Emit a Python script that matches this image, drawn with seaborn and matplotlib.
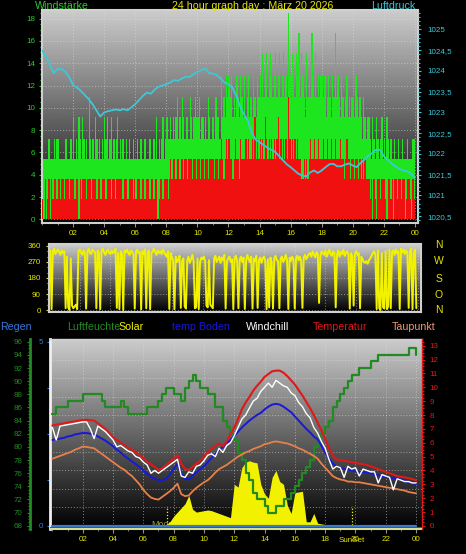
#!/usr/bin/env python3
"""
Graphique météo sur 24 h : vent, pression, direction, températures.
"""
import numpy as np
import matplotlib
matplotlib.use('Agg')
import matplotlib.pyplot as plt
from matplotlib.ticker import MultipleLocator, FixedLocator, FuncFormatter
import seaborn as sns

W, H = 466, 554

# Vent (km/h), un point toutes les 5 minutes
WIND_GUST = [
    7.2, 5.4, 5.4, 5.4, 5.4, 7.2, 5.4, 5.4, 5.4, 7.2, 5.4, 7.2,
    7.2, 5.4, 5.4, 5.4, 5.4, 5.4, 7.2, 5.4, 5.4, 5.4, 7.2, 5.4,
    9.2, 5.4, 7.2, 5.4, 9.2, 7.2, 5.4, 9.2, 7.2, 5.4, 7.2, 5.4,
    11, 7.2, 5.4, 7.2, 5.4, 9.2, 7.2, 5.4, 7.2, 5.4, 7.2, 5.4,
    9.2, 7.2, 9.2, 5.4, 7.2, 9.2, 5.4, 7.2, 5.4, 7.2, 9.2, 5.4,
    7.2, 5.4, 7.2, 5.4, 5.4, 7.2, 5.4, 7.2, 5.4, 5.4, 7.2, 5.4,
    5.4, 7.2, 5.4, 5.4, 7.2, 5.4, 5.4, 7.2, 5.4, 5.4, 5.4, 7.2,
    5.4, 5.4, 7.2, 5.4, 9.2, 5.4, 7.2, 5.4, 7.2, 9.2, 5.4, 7.2,
    9.2, 7.2, 7.2, 9.2, 7.2, 9.2, 7.2, 9.2, 11, 7.2, 9.2, 7.2,
    11, 9.2, 7.2, 9.2, 9.2, 7.2, 11, 9.2, 7.2, 9.2, 11, 9.2,
    9.2, 11, 7.2, 9.2, 9.2, 7.2, 9.2, 7.2, 11, 9.2, 7.2, 9.2,
    9.2, 7.2, 11, 9.2, 9.2, 7.2, 12.9, 9.2, 11, 9.2, 12.9, 11,
    12.9, 11, 12.9, 9.2, 11, 9.2, 12.9, 11, 9.2, 12.9, 11, 9.2,
    12.9, 9.2, 11, 12.9, 9.2, 11, 9.2, 12.9, 11, 9.2, 12.9, 11,
    12.9, 11, 14.9, 11, 12.9, 14.9, 11, 12.9, 14.9, 12.9, 11, 12.9,
    14.9, 11, 12.9, 14.9, 11, 12.9, 14.9, 11, 12.9, 11, 18.5, 12.9,
    11, 14.9, 12.9, 11, 14.9, 12.9, 16.7, 11, 14.9, 12.9, 11, 9.2,
    14.9, 11, 12.9, 11, 16.7, 12.9, 11, 14.9, 11, 12.9, 11, 12.9,
    12.9, 11, 12.9, 9.2, 11, 12.9, 11, 9.2, 12.9, 11, 16.7, 11,
    12.9, 11, 9.2, 12.9, 11, 9.2, 11, 12.9, 9.2, 11, 9.2, 11,
    11, 9.2, 12.9, 11, 9.2, 11, 9.2, 7.2, 11, 9.2, 7.2, 9.2,
    9.2, 7.2, 5.4, 9.2, 7.2, 5.4, 9.2, 7.2, 5.4, 7.2, 9.2, 5.4,
    7.2, 5.4, 9.2, 7.2, 5.4, 7.2, 5.4, 5.4, 7.2, 5.4, 5.4, 7.2,
    5.4, 5.4, 7.2, 5.4, 5.4, 5.4, 7.2, 5.4, 5.4, 5.4, 7.2, 7.2,
]
WIND_SPEED = [
    1.8, 0, 3.6, 0, 1.8, 3.6, 0, 3.6, 1.8, 3.6, 3.6, 1.8,
    3.6, 3.6, 1.8, 3.6, 3.6, 1.8, 3.6, 3.6, 3.6, 1.8, 3.6, 3.6,
    3.6, 1.8, 3.6, 3.6, 0, 3.6, 1.8, 3.6, 3.6, 3.6, 1.8, 3.6,
    3.6, 3.6, 1.8, 3.6, 3.6, 3.6, 1.8, 3.6, 3.6, 1.8, 3.6, 3.6,
    3.6, 1.8, 3.6, 3.6, 3.6, 1.8, 3.6, 3.6, 1.8, 3.6, 3.6, 3.6,
    3.6, 3.6, 1.8, 3.6, 3.6, 3.6, 1.8, 3.6, 3.6, 3.6, 1.8, 3.6,
    1.8, 3.6, 3.6, 3.6, 1.8, 3.6, 3.6, 1.8, 3.6, 3.6, 3.6, 1.8,
    3.6, 3.6, 1.8, 3.6, 3.6, 0, 1.8, 3.6, 3.6, 1.8, 3.6, 3.6,
    3.6, 1.8, 3.6, 5.4, 3.6, 5.4, 5.4, 3.6, 5.4, 5.4, 3.6, 5.4,
    5.4, 3.6, 5.4, 5.4, 3.6, 5.4, 5.4, 5.4, 3.6, 5.4, 5.4, 3.6,
    5.4, 5.4, 3.6, 5.4, 5.4, 3.6, 5.4, 5.4, 3.6, 5.4, 5.4, 5.4,
    5.4, 3.6, 5.4, 5.4, 3.6, 5.4, 7.2, 5.4, 3.6, 5.4, 7.2, 5.4,
    7.2, 5.4, 5.4, 3.6, 5.4, 7.2, 5.4, 5.4, 3.6, 7.2, 5.4, 5.4,
    5.4, 7.2, 5.4, 7.2, 5.4, 5.4, 7.2, 5.4, 9.2, 5.4, 7.2, 5.4,
    7.2, 5.4, 7.2, 5.4, 9.2, 7.2, 5.4, 7.2, 5.4, 7.2, 5.4, 7.2,
    5.4, 7.2, 9.2, 5.4, 7.2, 5.4, 7.2, 5.4, 7.2, 5.4, 11, 7.2,
    5.4, 7.2, 5.4, 7.2, 5.4, 7.2, 5.4, 5.4, 3.6, 3.6, 5.4, 3.6,
    5.4, 3.6, 5.4, 7.2, 5.4, 5.4, 7.2, 5.4, 5.4, 7.2, 5.4, 5.4,
    5.4, 7.2, 5.4, 5.4, 7.2, 5.4, 5.4, 7.2, 5.4, 5.4, 7.2, 5.4,
    5.4, 5.4, 7.2, 5.4, 5.4, 3.6, 5.4, 7.2, 5.4, 5.4, 3.6, 5.4,
    5.4, 3.6, 5.4, 5.4, 3.6, 5.4, 3.6, 5.4, 3.6, 5.4, 3.6, 3.6,
    3.6, 1.8, 3.6, 0, 3.6, 1.8, 0, 3.6, 3.6, 1.8, 3.6, 3.6,
    3.6, 1.8, 0, 3.6, 3.6, 1.8, 3.6, 0, 3.6, 3.6, 1.8, 3.6,
    3.6, 1.8, 3.6, 3.6, 0, 1.8, 3.6, 3.6, 1.8, 0, 3.6, 1.8,
]

# Pression (hPa), toutes les 15 minutes
PRESSURE = [
    1024.5, 1024.35, 1024.15, 1023.95,
    1024.05, 1024.05, 1023.98, 1023.85,
    1023.66, 1023.6, 1023.52, 1023.42,
    1023.32, 1023.2, 1023.05, 1022.9,
    1023.0, 1023.03, 1023.05, 1023.07,
    1023.05, 1023.08, 1023.05, 1023.12,
    1023.2, 1023.3, 1023.4, 1023.48,
    1023.45, 1023.55, 1023.62, 1023.65,
    1023.68, 1023.72, 1023.78, 1023.76,
    1023.82, 1023.86, 1023.85, 1023.92,
    1023.98, 1024.02, 1024.06, 1023.95,
    1023.94, 1023.9, 1023.82, 1023.72,
    1023.68, 1023.6, 1023.4, 1023.15,
    1022.95, 1022.8, 1022.5, 1022.35,
    1022.28, 1022.22, 1022.15, 1022.1,
    1022.05, 1021.95, 1021.85, 1021.75,
    1021.68, 1021.6, 1021.52, 1021.48,
    1021.45, 1021.55, 1021.6, 1021.54,
    1021.6, 1021.68, 1021.75, 1021.76,
    1021.7, 1021.7, 1021.74, 1021.77,
    1021.72, 1021.68, 1021.78, 1021.86,
    1021.95, 1022.02, 1022.1, 1022.1,
    1021.95, 1021.85, 1021.77, 1021.7,
    1021.64, 1021.6, 1021.58, 1021.52,
    1021.43,
]

# Direction du vent (degrés), toutes les 5 minutes
WIND_DIR = [
    320, 335, 5, 330, 345, 315, 330, 340, 325, 310, 335, 320,
    330, 10, 300, 15, 0, 290, 25, 10, 20, 30, 5, 330,
    340, 325, 310, 335, 320, 8, 330, 345, 320, 315, 340, 330,
    325, 10, 335, 320, 5, 330, 345, 325, 310, 330, 340, 320,
    315, 335, 320, 330, 345, 12, 320, 5, 330, 315, 0, 335,
    325, 340, 320, 310, 335, 325, 315, 8, 330, 340, 320, 325,
    3, 330, 315, 340, 10, 325, 335, 5, 320, 330, 345, 325,
    310, 335, 320, 330, 315, 340, 325, 310, 300, 330, 6, 320,
    295, 280, 4, 300, 270, 285, 305, 12, 275, 290, 20, 8,
    280, 300, 265, 285, 310, 275, 10, 15, 290, 5, 270, 295,
    285, 300, 275, 25, 15, 280, 30, 20, 10, 290, 305, 270,
    285, 300, 265, 295, 280, 310, 8, 275, 290, 300, 270, 285,
    5, 290, 305, 275, 10, 285, 300, 270, 295, 6, 280, 310,
    285, 270, 300, 8, 290, 275, 305, 12, 280, 295, 265, 290,
    300, 275, 5, 285, 15, 295, 270, 8, 290, 305, 280, 275,
    10, 290, 300, 270, 285, 310, 280, 6, 295, 275, 300, 285,
    8, 290, 305, 280, 300, 275, 12, 295, 310, 285, 300, 315,
    320, 300, 330, 310, 295, 325, 315, 40, 305, 330, 320, 310,
    335, 300, 320, 340, 315, 305, 330, 320, 15, 310, 335, 300,
    325, 315, 340, 305, 320, 330, 310, 8, 320, 300, 25, 315,
    330, 310, 320, 10, 300, 285, 270, 265, 275, 260, 280, 290,
    305, 320, 330, 310, 5, 335, 10, 0, 320, 15, 8, 330,
    5, 20, 340, 10, 325, 335, 310, 340, 320, 330, 6, 345,
    325, 340, 315, 335, 320, 12, 330, 345, 5, 320, 340, 10,
]

# Courbes du bas, toutes les 15 minutes (°C, %, W/m², mm)
TEMPERATURE = [
    7.25, 7.3, 7.35, 7.4, 7.45, 7.5, 7.55, 7.6,
    7.65, 7.65, 7.62, 7.6, 7.4, 7.2, 7.0, 6.7,
    6.4, 6.2, 6.0, 5.85, 5.65, 5.5, 5.3, 5.1,
    4.9, 4.65, 4.45, 4.25, 4.05, 4.15, 4.4, 4.6,
    4.85, 5.1, 4.5, 4.1, 4.05, 4.25, 4.5, 4.7,
    5.0, 5.3, 5.55, 5.8, 5.95, 5.75, 6.1, 6.6,
    7.1, 7.7, 8.4, 8.9, 9.3, 9.75, 10.1, 10.4,
    10.75, 10.95, 11.15, 11.2, 11.2, 11.05, 10.8, 10.5,
    10.2, 9.8, 9.4, 8.95, 8.5, 8.0, 7.45, 6.9,
    6.3, 5.6, 5.1, 4.8, 4.75, 4.7, 4.65, 4.6,
    4.55, 4.5, 4.45, 4.4, 4.3, 4.2, 4.1, 4.0,
    3.9, 3.8, 3.7, 3.6, 3.55, 3.5, 3.45, 3.38,
    3.3,
]
WINDCHILL = [
    7.1, 6.2, 7.2, 7.25, 7.3, 7.35, 7.4, 7.45,
    7.5, 7.5, 7.0, 6.3, 7.2, 7.0, 6.8, 6.5,
    6.2, 5.7, 5.8, 5.6, 5.4, 5.3, 5.0, 4.9,
    4.6, 4.4, 3.8, 4.0, 3.8, 4.0, 4.2, 4.4,
    4.6, 4.8, 3.6, 3.5, 3.9, 3.8, 4.3, 4.4,
    4.7, 5.1, 5.2, 5.0, 5.6, 5.3, 5.8, 6.0,
    6.5, 7.1, 7.7, 8.0, 8.5, 9.0, 9.2, 9.7,
    10.0, 10.3, 10.0, 10.5, 10.3, 10.1, 10.0, 9.6,
    9.4, 8.9, 8.6, 8.1, 7.8, 7.1, 6.7, 6.1,
    5.6, 4.8, 4.1, 4.3, 4.2, 3.5, 4.3, 4.1,
    4.2, 3.6, 4.1, 4.0, 3.9, 3.9, 3.1, 3.7,
    3.6, 3.5, 2.6, 3.4, 3.3, 3.2, 3.2, 3.1,
    3.1,
]
TEMP_BODEN = [
    6.2, 6.25, 6.3, 6.35, 6.45, 6.5, 6.6, 6.65,
    6.7, 6.7, 6.65, 6.6, 6.45, 6.3, 6.15, 5.95,
    5.75, 5.5, 5.3, 5.05, 4.85, 4.65, 4.45, 4.25,
    4.0, 3.75, 3.55, 3.4, 3.32, 3.3, 3.4, 3.7,
    4.1, 4.5, 3.8, 3.4, 3.35, 3.6, 3.9, 4.1,
    4.3, 4.6, 4.9, 5.2, 5.5, 5.7, 6.0, 6.2,
    6.5, 6.8, 7.1, 7.35, 7.6, 7.8, 8.0, 8.15,
    8.4, 8.6, 8.75, 8.8, 8.75, 8.6, 8.4, 8.2,
    7.9, 7.6, 7.3, 7.0, 6.75, 6.45, 6.25, 5.8,
    5.3, 4.9, 4.5, 4.3, 4.2, 4.1, 4.05, 4.0,
    3.95, 3.9, 3.88, 3.85, 3.8, 3.7, 3.65, 3.58,
    3.55, 3.5, 3.45, 3.4, 3.35, 3.25, 3.15, 3.08,
    3.02,
]
TAUPUNKT = [
    4.85, 4.95, 5.05, 5.15, 5.25, 5.35, 5.5, 5.6,
    5.72, 5.7, 5.65, 5.6, 5.4, 5.2, 5.0, 4.8,
    4.6, 4.4, 4.2, 4.05, 3.8, 3.6, 3.3, 3.0,
    2.6, 2.3, 2.05, 1.95, 1.9, 2.1, 2.3, 2.5,
    2.75, 3.05, 2.3, 2.15, 2.2, 2.5, 2.75, 2.95,
    3.15, 3.3, 3.55, 3.85, 4.1, 4.25, 4.4, 4.6,
    4.8, 5.0, 5.15, 5.3, 5.4, 5.55, 5.65, 5.75,
    5.9, 5.95, 6.05, 6.1, 6.05, 6.0, 5.95, 5.85,
    5.75, 5.6, 5.5, 5.35, 5.2, 5.05, 4.85, 4.5,
    4.2, 3.9, 3.6, 3.45, 3.35, 3.3, 3.2, 3.2,
    3.15, 3.15, 3.1, 3.05, 3.0, 2.95, 2.9, 2.85,
    2.8, 2.75, 2.72, 2.65, 2.6, 2.55, 2.45, 2.4,
    2.35,
]
HUMIDITY = [
    85, 86, 86, 86, 87, 87, 87, 87,
    88, 88, 88, 88, 88, 87, 86, 86,
    86, 86, 87, 86, 85, 85, 85, 85,
    85, 86, 86, 86, 87, 88, 89, 89,
    88, 88, 87, 89, 90, 91, 90, 89,
    89, 88, 88, 86, 86, 84, 83, 82,
    81, 79, 78, 76, 75, 73, 72, 72,
    71, 70, 70, 71, 71, 72, 72, 73,
    74, 75, 76, 77, 78, 80, 81, 82,
    83, 84, 86, 87, 88, 89, 90, 91,
    91, 92, 92, 92, 93, 93, 94, 94,
    94, 94, 94, 94, 94, 94, 95, 95,
    94,
]
SOLAR = [
    0, 0, 0, 0, 0, 0, 0, 0,
    0, 0, 0, 0, 0, 0, 0, 0,
    0, 0, 0, 0, 0, 0, 0, 0,
    0, 0, 0, 0, 0, 5, 10, 30,
    70, 100, 130, 160, 220, 120, 100, 105,
    110, 115, 110, 100, 90, 80, 70, 60,
    300, 280, 420, 460, 470, 460, 455, 300,
    230, 200, 350, 400, 320, 300, 150, 90,
    240, 245, 250, 30, 30, 90, 20, 15,
    10, 5, 0, 0, 0, 0, 0, 0,
    0, 0, 0, 0, 0, 0, 0, 0,
    0, 0, 0, 0, 0, 0, 0, 0,
    0,
]
RAIN = [0.0] * 97

HOUR_LABELS = ['02', '04', '06', '08', '10', '12',
               '14', '16', '18', '20', '22', '00']
HOUR_TICKS = [2, 4, 6, 8, 10, 12, 14, 16, 18, 20, 22, 24]

# Couleurs
GUST_GREEN = '#1ee61e'
SPEED_RED = '#f01010'
CYAN = '#3cc8d8'
YELLOW = '#f2f200'
LBL_YELLOW = '#e4e400'
WIND_LBL = '#2ecc2e'
HUM_GREEN = '#238a23'
BODEN_BLUE = '#1818d8'
RAIN_BLUE = '#3a78d8'
TEMP_RED = '#e01818'
DEW = '#e8804a'
SPINE = '#d0d0d0'
GRID = dict(color='#e0e0e0', linestyle=(0, (1, 2)), linewidth=0.7, alpha=0.55)
TICK_FS = 5.8
TEXT_FS = 7.7


def px_rect(left, top, right, bottom):
    """Rectangle en pixels -> coordonnées figure."""
    return [left / W, 1 - bottom / H, (right - left) / W, (bottom - top) / H]


def gradient_bg(ax, top=0.8):
    """Fond en dégradé gris (haut) -> noir (bas)."""
    grad = np.linspace(0.0, top, 256).reshape(-1, 1)
    ax.imshow(grad, extent=[0, 1, 0, 1], transform=ax.transAxes,
              origin='lower', aspect='auto', cmap='gray', vmin=0, vmax=1,
              interpolation='bilinear', zorder=0)


def style_hours(ax, labels=True):
    ax.set_xticks(HOUR_TICKS)
    ax.set_xticklabels(HOUR_LABELS if labels else [''] * len(HOUR_TICKS))
    ax.xaxis.set_minor_locator(MultipleLocator(1))
    ax.tick_params(axis='x', which='both', colors='#909090',
                   labelcolor=LBL_YELLOW, labelsize=TICK_FS, length=3, pad=2)
    ax.tick_params(axis='x', which='minor', length=1.5)
    if not labels:
        ax.tick_params(axis='x', which='both', length=0)


def spines(ax, color=SPINE, lw=1.5, hide=()):
    for name, sp in ax.spines.items():
        sp.set_visible(name not in hide)
        sp.set_color(color)
        sp.set_linewidth(lw)


def plot_wind(fig):
    """Panneau du haut : rafales / vent moyen + pression."""
    ax = fig.add_axes(px_rect(42, 10, 418, 222.7))
    gradient_bg(ax)
    edges = np.arange(len(WIND_GUST) + 1) / 12.0
    ax.stairs(WIND_GUST, edges, fill=True, color=GUST_GREEN, baseline=0,
              zorder=2)
    ax.stairs(WIND_SPEED, edges, fill=True, color=SPEED_RED, baseline=0,
              zorder=3)
    ax.set_axisbelow(True)
    ax.grid(True, which='major', **GRID)
    style_hours(ax)
    ax.yaxis.set_major_locator(MultipleLocator(2))
    ax.yaxis.set_minor_locator(MultipleLocator(0.5))
    ax.tick_params(axis='y', which='both', colors=WIND_LBL,
                   labelsize=TICK_FS, length=2.5, width=0.8, pad=2.5)
    ax.tick_params(axis='y', which='minor', length=1.3)
    spines(ax)

    axp = ax.twinx()
    t15 = np.arange(len(PRESSURE)) / 4.0
    sns.lineplot(x=t15, y=PRESSURE, ax=axp, color=CYAN, lw=1.3)
    axp.set_ylim(1020.34, 1025.47)
    axp.yaxis.set_major_locator(MultipleLocator(0.5))
    axp.yaxis.set_minor_locator(MultipleLocator(0.1))
    axp.yaxis.set_major_formatter(
        FuncFormatter(lambda v, p: f'{v:g}'.replace('.', ',')))
    axp.tick_params(axis='y', which='both', colors=CYAN, labelsize=TICK_FS,
                    length=2.2, width=0.8, pad=4.5)
    axp.tick_params(axis='y', which='minor', length=1.2)
    axp.set_ylabel('')
    spines(axp, hide=('left', 'right', 'top', 'bottom'))

    ax.set_xlim(0, 24.2)
    ax.set_ylim(-0.3, 18.78)


def plot_direction(fig):
    """Panneau du milieu : direction du vent."""
    ax = fig.add_axes(px_rect(49, 244, 420.7, 312))
    gradient_bg(ax)
    t5 = np.arange(len(WIND_DIR)) / 12.0
    sns.lineplot(x=t5, y=WIND_DIR, ax=ax, color=YELLOW, lw=1.4)
    ax.set_axisbelow(True)
    ax.grid(True, which='major', **GRID)
    style_hours(ax, labels=False)
    ax.set_yticks([0, 90, 180, 270, 360])
    ax.yaxis.set_minor_locator(MultipleLocator(30))
    ax.tick_params(axis='y', which='both', colors=LBL_YELLOW,
                   labelsize=TICK_FS, length=2.5, width=0.8, pad=3.5)
    ax.tick_params(axis='y', which='minor', length=1.3)
    ax.set_ylabel('')
    spines(ax)
    ax.set_xlim(0, 24.2)
    ax.set_ylim(-11, 371)

    for label, ypx in zip(['N', 'W', 'S', 'O', 'N'], [245, 261, 279, 294.5, 310]):
        fig.text(439 / W, 1 - ypx / H, label, color=LBL_YELLOW, fontsize=7.5,
                 ha='center', va='center')


def plot_climate(fig):
    """Panneau du bas : températures, humidité, solaire, pluie."""
    t15 = np.arange(len(TEMPERATURE)) / 4.0

    ax = fig.add_axes(px_rect(50, 339, 421.7, 529))
    gradient_bg(ax)
    ax.set_axisbelow(True)
    ax.yaxis.set_major_locator(FixedLocator([0, 1.25, 2.5, 3.75, 5]))
    ax.yaxis.set_major_formatter(
        FuncFormatter(lambda v, p: f'{v:g}' if v in (0, 5) else ''))
    ax.yaxis.set_minor_locator(MultipleLocator(0.5))
    ax.grid(True, which='minor', axis='y', **GRID)
    ax.grid(True, which='major', axis='x', **GRID)
    ax.tick_params(axis='y', which='major', colors=RAIN_BLUE,
                   labelsize=TICK_FS, length=2, width=0.8, pad=2.8)
    ax.tick_params(axis='y', which='minor', length=0)
    style_hours(ax)
    spines(ax, hide=('right',))
    ax.spines['left'].set_color('#f0f0f0')
    ax.spines['left'].set_linewidth(2)
    ax.spines['top'].set_linewidth(1)
    ax.set_xlim(-0.16, 24.37)
    ax.set_ylim(-0.09, 5.07)

    # textes lune / soleil
    ax.text(7.83, 0.026, 'MoonRise', transform=ax.get_xaxis_transform(),
            color='#9aa040', fontsize=6.5, ha='center', va='center', zorder=1)
    for xs in (7.56, 19.76):
        ax.axvline(xs, ymin=0.02, ymax=0.12, color=YELLOW, lw=0.9,
                   linestyle=(0, (1, 1.5)), zorder=1)
    ax.text(19.78, -0.058, 'SunSet', transform=ax.get_xaxis_transform(),
            color=LBL_YELLOW, fontsize=TICK_FS, ha='center', va='center')

    # solaire (échelle cachée)
    axs = ax.twinx()
    axs.fill_between(t15, SOLAR, color=YELLOW, linewidth=0)
    axs.set_ylim(-22, 1348)
    axs.axis('off')

    # humidité : axe vert à gauche
    axh = ax.twinx()
    sns.lineplot(x=t15, y=HUMIDITY, ax=axh, color=HUM_GREEN, lw=1.6,
                 drawstyle='steps-post')
    axh.set_ylim(67.5, 96.42)
    axh.yaxis.set_ticks_position('left')
    axh.yaxis.set_label_position('left')
    spines(axh, color=HUM_GREEN, lw=2, hide=('right', 'top', 'bottom'))
    axh.spines['left'].set_position(('outward', 14.4))
    axh.yaxis.set_major_locator(MultipleLocator(2))
    axh.yaxis.set_minor_locator(MultipleLocator(0.5))
    axh.tick_params(axis='y', which='both', colors=HUM_GREEN,
                    labelsize=TICK_FS, length=2.5, width=0.8, pad=3)
    axh.tick_params(axis='y', which='minor', length=1.2)
    axh.set_ylabel('')

    # températures : axe rouge à droite
    axt = ax.twinx()
    for series, color, lw in [(TAUPUNKT, DEW, 1.3), (TEMP_BODEN, BODEN_BLUE, 1.4),
                              (TEMPERATURE, TEMP_RED, 1.5), (WINDCHILL, 'white', 1.0)]:
        sns.lineplot(x=t15, y=series, ax=axt, color=color, lw=lw)
    axt.set_ylim(-0.22, 13.48)
    axt.yaxis.set_major_locator(MultipleLocator(1))
    axt.yaxis.set_minor_locator(MultipleLocator(0.25))
    axt.tick_params(axis='y', which='both', colors=TEMP_RED,
                    labelsize=TICK_FS, length=2.2, width=0.8, pad=3.5)
    axt.tick_params(axis='y', which='minor', length=1.2)
    spines(axt, color=TEMP_RED, lw=1, hide=('left', 'top', 'bottom'))
    axt.spines['right'].set_linestyle((0, (1, 1)))
    axt.set_ylabel('')

    # pluie (même échelle que l'axe bleu)
    axr = ax.twinx()
    axr.axhspan(-0.09, -0.035, color='#dde59a', linewidth=0)
    sns.lineplot(x=t15, y=RAIN, ax=axr, color=RAIN_BLUE, lw=1.6)
    axr.axhline(-0.025, color='#1a7a30', lw=0.8)
    axr.set_ylim(-0.09, 5.07)
    axr.axis('off')


def main():
    sns.set_style('ticks')
    plt.rcParams['font.family'] = ['Liberation Sans', 'DejaVu Sans']
    fig = plt.figure(figsize=(W / 100, H / 100), dpi=100, facecolor='black')

    plot_wind(fig)
    plot_direction(fig)
    plot_climate(fig)

    # titres du haut
    ytop = 1 - 6 / H
    fig.text(35 / W, ytop, 'Windstärke', color=WIND_LBL, fontsize=TEXT_FS,
             ha='left', va='center')
    fig.text(252.5 / W, ytop, '24 hour graph day : März 20 2026',
             color=LBL_YELLOW, fontsize=TEXT_FS, ha='center', va='center')
    fig.text(415 / W, ytop, 'Luftdruck', color=CYAN, fontsize=TEXT_FS,
             ha='right', va='center')

    # légende du panneau du bas
    yleg = 1 - 327 / H
    legend = [('Regen', 0, RAIN_BLUE), ('Luftfeuchte', 67, HUM_GREEN),
              ('Solar', 118, YELLOW), ('temp Boden', 172, BODEN_BLUE),
              ('Windchill', 246, 'white'), ('Temperatur', 313, TEMP_RED),
              ('Taupunkt', 392, '#f09a78')]
    for text, xpx, color in legend:
        fig.text(xpx / W, yleg, text, color=color, fontsize=TEXT_FS,
                 ha='left', va='center')

    fig.savefig('out.png', dpi=100, facecolor='black')
    plt.close(fig)


if __name__ == '__main__':
    main()
